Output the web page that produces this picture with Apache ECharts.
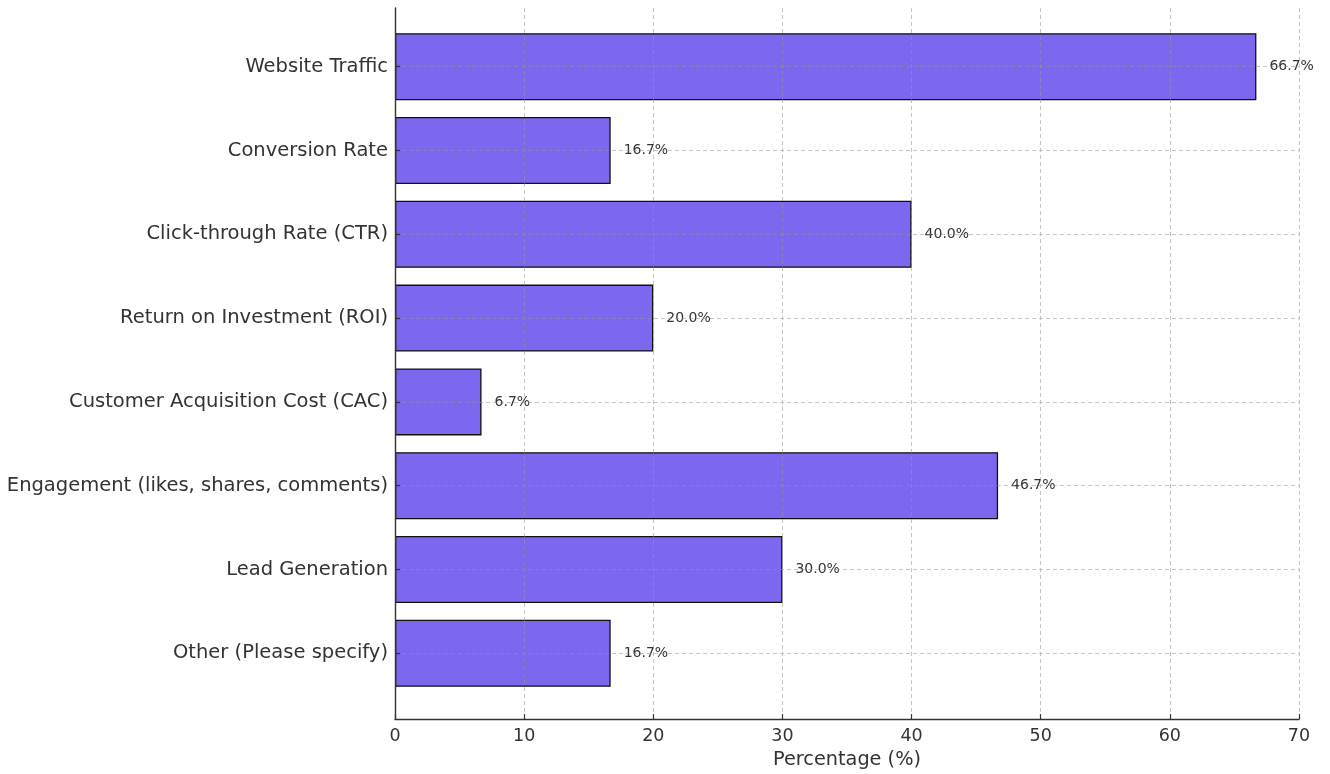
<!DOCTYPE html>
<html>
<head>
<meta charset="utf-8">
<script src="https://cdn.jsdelivr.net/npm/echarts@6/dist/echarts.min.js"></script>
<style>
  html, body { margin: 0; padding: 0; background: #fff; }
  #chart { width: 1330px; height: 774px; }
</style>
</head>
<body>
<div id="chart"></div>
<script>
// Survey metrics, listed top to bottom
const categories = [
  'Website Traffic',
  'Conversion Rate',
  'Click-through Rate (CTR)',
  'Return on Investment (ROI)',
  'Customer Acquisition Cost (CAC)',
  'Engagement (likes, shares, comments)',
  'Lead Generation',
  'Other (Please specify)'
];
const percentages = [66.7, 16.7, 40.0, 20.0, 6.7, 46.7, 30.0, 16.7];
const xTicks = { min: 0, max: 70, step: 10 };

const FONT = 'DejaVu Sans';
const TEXT = '#333';
const GRID_LINE = { color: 'rgba(150,150,150,0.55)', type: [4, 3], width: 1 };

const chart = echarts.init(document.getElementById('chart'), null, { renderer: 'canvas' });

chart.setOption({
  backgroundColor: '#fff',
  animation: false,
  textStyle: { fontFamily: FONT },
  grid: [
    // frame: spines, x scale, vertical grid lines
    { left: 395, right: 31, top: 8, bottom: 54, containLabel: false },
    // bar bands
    { left: 395, right: 31, top: 24.8, bottom: 78.8, containLabel: false },
    // category centres: horizontal grid lines + y ticks
    { left: 395, right: 31, top: 66.7, bottom: 120.7, containLabel: false }
  ],
  xAxis: [
    {
      gridIndex: 0, type: 'value', min: xTicks.min, max: xTicks.max, interval: xTicks.step,
      z: 5,
      axisLine: { show: true, lineStyle: { color: '#333', width: 1.4 } },
      axisTick: { show: true, inside: true, length: 5, lineStyle: { color: '#333', width: 1.2 } },
      axisLabel: { color: TEXT, fontSize: 17.5, fontFamily: FONT, margin: 8 },
      splitLine: { show: true, lineStyle: GRID_LINE },
      name: 'Percentage (%)', nameLocation: 'middle', nameGap: 29,
      nameTextStyle: { color: TEXT, fontSize: 19.3, fontFamily: FONT }
    },
    { gridIndex: 1, type: 'value', min: xTicks.min, max: xTicks.max, show: false },
    { gridIndex: 2, type: 'value', min: xTicks.min, max: xTicks.max, show: false }
  ],
  yAxis: [
    {
      gridIndex: 0, type: 'value', min: 0, max: 1, z: 5,
      axisLine: { show: true, lineStyle: { color: '#333', width: 1.4 } },
      axisTick: { show: false }, axisLabel: { show: false }, splitLine: { show: false }
    },
    {
      gridIndex: 1, type: 'category', inverse: true, data: categories,
      axisLine: { show: false }, axisTick: { show: false },
      axisLabel: { color: TEXT, fontSize: 19.5, fontFamily: FONT, margin: 7, padding: [6, 0, 0, 0] },
      splitLine: { show: false }
    },
    {
      gridIndex: 2, type: 'value', min: 0, max: categories.length - 1, interval: 1, z: 5,
      axisLine: { show: false },
      axisTick: { show: true, inside: true, length: 5, lineStyle: { color: '#333', width: 1.2 } },
      axisLabel: { show: false },
      splitLine: { show: true, lineStyle: GRID_LINE }
    }
  ],
  series: [
    {
      type: 'bar',
      xAxisIndex: 1, yAxisIndex: 1,
      z: 1,
      data: percentages,
      barWidth: '80%',
      itemStyle: { color: '#7B68EE', borderColor: '#111', borderWidth: 1.3 },
      label: {
        show: true, position: 'right', distance: 13,
        color: TEXT, fontSize: 14, fontFamily: FONT, padding: [5, 0, 0, 0],
        formatter: p => p.value.toFixed(1) + '%'
      }
    }
  ]
});
</script>
</body>
</html>
